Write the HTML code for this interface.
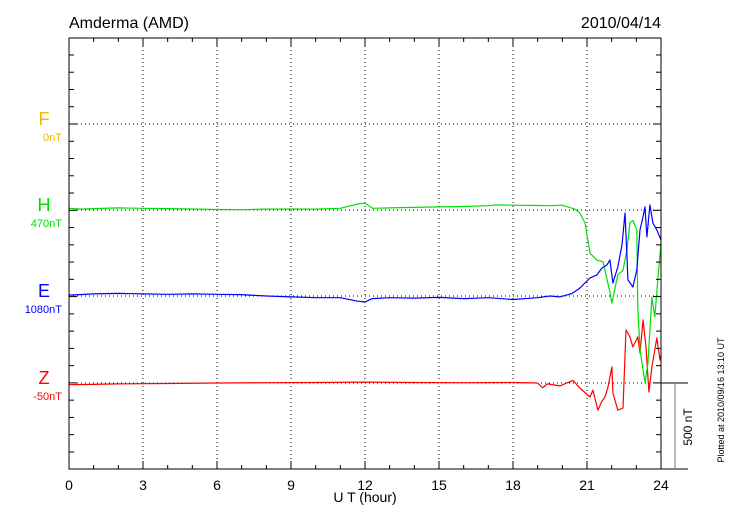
<!DOCTYPE html>
<html><head><meta charset="utf-8"><style>
body{margin:0;background:#fff;}
svg{display:block;font-family:"Liberation Sans",sans-serif;}
</style></head><body>
<svg id="chart" width="730" height="520" viewBox="0 0 730 520" xmlns="http://www.w3.org/2000/svg">
<text x="69" y="28" font-size="16">Amderma (AMD)</text>
<text x="661" y="28" font-size="16" text-anchor="end">2010/04/14</text>
<g id="grid"></g>
<g id="series"></g>
<rect x="69" y="38" width="592" height="431" fill="none" stroke="#000" stroke-width="1"/>
<g id="ticks"></g>
<g id="labels"></g>
<line x1="661" y1="383" x2="688" y2="383" stroke="#000"/>
<line x1="661" y1="469" x2="688" y2="469" stroke="#000"/>
<line x1="675" y1="383" x2="675" y2="469" stroke="#777"/>
<text transform="translate(692,427) rotate(-90)" font-size="12" text-anchor="middle">500 nT</text>
<text x="365" y="502" font-size="14" text-anchor="middle">U T (hour)</text>
<text transform="translate(724,400) rotate(-90)" font-size="9" text-anchor="middle">Plotted at 2010/09/16 13:10 UT</text>
</svg>
<script>
const xTicks=[0,3,6,9,12,15,18,21,24];
const components=["F","H","E","Z"];
const baseLabels=["0nT","470nT","1080nT","-50nT"];
const compColors=["#f5b400","#00e000","#0000ff","#ff0000"];
const hHours=[0,0.5,1,2,3,4,5,6,7,8,9,10,11,11.7,12,12.3,13,14,15,16,17,17.3,18,19,19.5,20,20.5,20.7,20.92,21.12,21.4,21.65,21.93,22.01,22.25,22.46,22.62,22.74,22.86,23.02,23.06,23.15,23.35,23.47,23.63,23.75,23.87,24];
const hVals=[10,5,8,12,10,8,6,3,2,5,6,5,10,35,40,10,12,15,18,20,25,30,28,26,25,28,5,-15,-75,-250,-290,-300,-475,-540,-375,-350,-230,-75,-60,-115,-560,-810,-1000,-890,-505,-620,-405,-190];
const eHours=[0,1,2,3,4,5,6,7,8,9,10,11,11.7,12,12.3,13,14,15,16,17,18,19,19.5,19.9,20.4,20.71,21.12,21.4,21.61,21.81,21.93,22.05,22.25,22.42,22.54,22.62,22.66,22.86,23.02,23.15,23.27,23.35,23.43,23.55,23.67,23.83,24];
const eVals=[5,12,15,12,10,12,10,8,0,-5,-10,-10,-30,-35,-15,-10,-12,-8,-15,-10,-20,-10,0,-5,15,46,104,122,162,180,209,75,168,296,481,226,93,52,151,383,458,516,342,528,423,383,325];
const zHours=[0,1,2,4,6,8,10,12,14,16,18,19,19.2,19.4,19.9,20.43,20.71,21.12,21.24,21.44,21.61,21.73,21.85,22.01,22.05,22.25,22.46,22.58,22.74,22.86,23.06,23.15,23.27,23.39,23.51,23.63,23.83,23.96,24];
const zVals=[-10,-8,-5,-3,0,2,3,5,3,2,3,0,-28,-5,-17,15,-29,-81,-41,-157,-104,-81,-23,93,-58,-157,-145,307,267,209,267,174,365,209,-52,93,261,133,162];

const X0=69,X1=661,Y0=38,Y1=469;
const baseY=[124,210,296,383];
const pxPerNT=86.3/500;
const xs=h=>X0+h*(X1-X0)/24;
const ys=(i,v)=>baseY[i]-v*pxPerNT;
const NS="http://www.w3.org/2000/svg";
function mk(tag,parent,attrs){const e=document.createElementNS(NS,tag);for(const k in attrs)e.setAttribute(k,attrs[k]);parent.appendChild(e);return e;}
const grid=document.getElementById('grid'),ticks=document.getElementById('ticks'),labels=document.getElementById('labels'),series=document.getElementById('series');
xTicks.forEach(t=>{
  if(t>0&&t<24){const l=mk('line',grid,{x1:xs(t),y1:Y0,x2:xs(t),y2:Y1,stroke:'#000','stroke-dasharray':'1,3'});
  
  }
  const tx=mk('text',labels,{x:xs(t),y:490,'font-size':14,'text-anchor':'middle'});tx.textContent=t;
  
  
});
for(let h=0;h<=24;h++){const len=(h%3==0)?8:4;
  const a=mk('line',ticks,{x1:xs(h),y1:Y1,x2:xs(h),y2:Y1-len,stroke:'#000'});
  
  
  const b=mk('line',ticks,{x1:xs(h),y1:Y0,x2:xs(h),y2:Y0+len,stroke:'#000'});
  
  }
for(let k=-5;k<=20;k++){const y=124+k*86.3/5;if(y<Y0+2||y>Y1-2)continue;
  const major=(k%5==0);
  const a=mk('line',ticks,{x1:X0,y1:y,x2:X0+(major?8:5),y2:y,stroke:'#000'});
  
  
  const b=mk('line',ticks,{x1:X1,y1:y,x2:X1-(major?8:5),y2:y,stroke:'#000'});
  
  }
components.forEach((c,i)=>{
  const l=mk('line',grid,{x1:X0,y1:baseY[i],x2:X1,y2:baseY[i],stroke:'#000','stroke-dasharray':'1,3'});
  
  
  const t=mk('text',labels,{x:44,y:baseY[i]+1,'font-size':18,'text-anchor':'middle',fill:compColors[i]});t.textContent=c;
  
  
  const s=mk('text',labels,{x:62,y:baseY[i]+17,'font-size':11,'text-anchor':'end',fill:compColors[i]});s.textContent=baseLabels[i];
  
  
});
function line(hours,vals,i,name){
  const d=hours.map((h,j)=>(j?'L':'M')+xs(h).toFixed(1)+','+ys(i,vals[j]).toFixed(1)).join('');
  const p=mk('path',series,{d:d,fill:'none',stroke:compColors[i],'stroke-width':1.2,'stroke-linejoin':'round'});
  
  
}
line(zHours,zVals,3,'z-series');
line(hHours,hVals,1,'h-series');
line(eHours,eVals,2,'e-series');
</script>
</body></html>
